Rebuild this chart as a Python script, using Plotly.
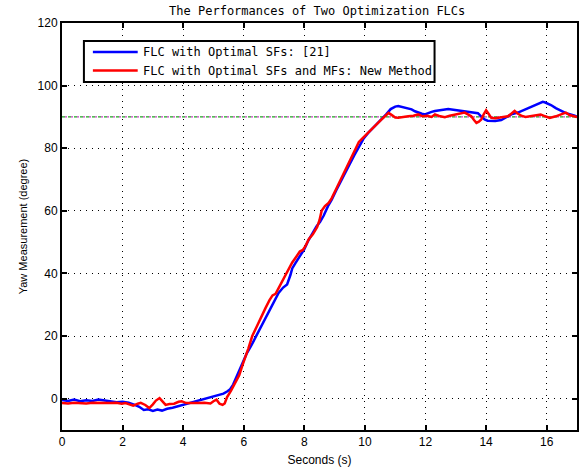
import plotly.graph_objects as go

# ---------------- data ----------------
blue_t = [0, 0.2, 0.4, 0.6, 0.8, 1.0, 1.2, 1.4, 1.6, 1.8, 2.0, 2.2, 2.4, 2.55, 2.7, 2.85,
          3.0, 3.15, 3.3, 3.47, 3.65, 3.8, 4.0, 4.13, 4.3, 4.45, 4.6, 4.78, 4.95, 5.1, 5.25,
          5.33, 5.45, 5.55, 5.65, 5.8, 5.95, 6.1, 6.25, 6.4, 6.55, 6.7, 6.85, 7.0, 7.15, 7.3,
          7.43, 7.54, 7.6, 7.7, 7.85, 8.0, 8.13, 8.26, 8.4, 8.52, 8.64, 8.78, 8.9, 9.05, 9.2,
          9.35, 9.5, 9.65, 9.8, 9.95, 10.1, 10.25, 10.4, 10.55, 10.7, 10.85, 11.0, 11.1, 11.25,
          11.4, 11.54, 11.65, 11.76, 11.88, 11.98, 12.1, 12.2, 12.31, 12.45, 12.6, 12.75, 12.86,
          13.0, 13.15, 13.29, 13.45, 13.6, 13.73, 13.85, 13.95, 14.05, 14.17, 14.3, 14.5, 14.65,
          14.83, 15.05, 15.25, 15.48, 15.65, 15.8, 15.87, 15.95, 16.05, 16.14, 16.3, 16.47,
          16.6, 16.7, 16.8, 16.9, 17.0]
blue_v = [-0.4, -0.7, -0.3, -0.8, -0.5, -0.7, -0.3, -0.6, -0.9, -1.1, -1.0, -1.3, -2.0, -2.6,
          -3.6, -3.4, -3.9, -3.5, -3.8, -3.2, -2.9, -2.5, -2.0, -1.6, -1.2, -0.8, -0.3, 0.3,
          0.7, 1.1, 1.4, 1.6, 2.3, 3.0, 4.5, 8.0, 11.5, 14.5, 17.0, 19.8, 22.5, 25.8, 28.5,
          31.2, 33.8, 35.5, 36.5, 39.5, 41.6, 43.2, 45.5, 47.8, 50.5, 52.9, 55.0, 56.5, 58.5,
          61.5, 63.5, 66.5, 69.5, 72.0, 75.0, 77.8, 80.5, 83.0, 84.8, 86.3, 87.5, 89.0, 90.8,
          92.5, 93.3, 93.5, 93.2, 92.8, 92.4, 91.8, 91.3, 91.0, 90.8, 91.3, 91.6, 91.9, 92.1,
          92.3, 92.5, 92.4, 92.2, 92.0, 92.0, 91.7, 91.5, 91.2, 90.0, 89.2, 88.8, 88.7, 88.7,
          89.0, 89.8, 90.8, 91.4, 92.2, 93.0, 93.8, 94.5, 94.8, 94.6, 94.3, 93.8, 92.8, 91.9,
          91.4, 91.0, 90.8, 90.5, 90.1]

red_t = [0, 0.2, 0.4, 0.6, 0.8, 1.0, 1.2, 1.4, 1.6, 1.8, 1.97, 2.1, 2.2, 2.35, 2.5, 2.6, 2.75,
         2.88, 3.0, 3.1, 3.22, 3.32, 3.42, 3.55, 3.7, 3.85, 3.95, 4.1, 4.3, 4.5, 4.7, 4.9, 5.0,
         5.1, 5.2, 5.3, 5.37, 5.45, 5.58, 5.68, 5.75, 5.85, 5.95, 6.05, 6.15, 6.28, 6.4, 6.5,
         6.6, 6.72, 6.85, 6.95, 7.05, 7.16, 7.28, 7.4, 7.5, 7.6, 7.71, 7.85, 7.95, 8.04, 8.15,
         8.28, 8.42, 8.5, 8.57, 8.68, 8.8, 8.9, 9.05, 9.2, 9.35, 9.5, 9.65, 9.8, 9.95, 10.1,
         10.25, 10.4, 10.55, 10.67, 10.78, 10.9, 11.0, 11.1, 11.25, 11.43, 11.6, 11.76, 11.9,
         12.05, 12.2, 12.31, 12.45, 12.64, 12.8, 12.96, 13.1, 13.29, 13.4, 13.51, 13.6, 13.68,
         13.76, 13.84, 13.92, 14.0, 14.08, 14.17, 14.3, 14.39, 14.55, 14.72, 14.85, 14.94,
         15.05, 15.16, 15.3, 15.45, 15.6, 15.8, 15.95, 16.1, 16.3, 16.47, 16.63, 16.75, 16.88,
         17.0]
red_v = [-1.4, -1.5, -1.3, -1.4, -1.5, -1.3, -1.4, -1.5, -1.4, -1.3, -1.6, -1.4, -1.7, -2.2,
         -1.6, -1.3, -2.0, -3.0, -1.8, -0.6, 0.2, -1.0, -2.0, -1.7, -1.6, -1.0, -0.8, -1.4,
         -1.5, -1.4, -1.3, -1.5, -0.8, -0.3, -1.6, -2.0, -1.5, 0.5, 2.6, 4.5, 5.8, 7.5, 10.5,
         13.0, 16.0, 20.0, 22.5, 24.5, 27.0, 29.0, 31.5, 33.0, 33.5, 35.5, 37.5, 40.0, 42.0,
         43.5, 45.0, 47.0, 47.5, 48.8, 51.0, 52.5, 54.8, 57.0, 60.0, 61.5, 62.5, 64.0, 67.0,
         70.0, 73.0, 76.5, 79.0, 82.0, 83.5, 85.0, 86.5, 88.0, 89.2, 90.3, 91.3, 90.5, 89.8,
         89.7, 90.0, 90.2, 90.4, 90.8, 90.2, 90.4, 90.0, 90.8, 90.3, 89.9, 90.4, 90.8, 91.0,
         91.4, 90.8, 90.2, 89.0, 88.1, 88.5, 89.2, 90.8, 92.1, 91.0, 89.7, 89.6, 89.7, 89.9,
         90.2, 91.2, 91.9, 91.0, 90.4, 90.0, 90.2, 90.3, 90.8, 90.2, 89.7, 90.2, 90.8, 91.4,
         90.6, 90.2, 90.0]

ref_t = [0, 17]
ref_v = [90, 90]

x_ticks = [0, 2, 4, 6, 8, 10, 12, 14, 16]
y_ticks = [0, 20, 40, 60, 80, 100, 120]

title_text = "The Performances of Two Optimization FLCs"
series_names = ["FLC with Optimal SFs: [21]", "FLC with Optimal SFs and MFs: New Method"]
series_colors = ["#0000ff", "#ff0000"]

MONO = "DejaVu Sans Mono"
SANS = "Liberation Sans, Arial, sans-serif"

W, H = 582, 474
ML, MR, MT, MB = 62, 3, 23, 44
PW, PH = W - ML - MR, H - MT - MB


def px_x(p):
    return (p - ML) / PW


def px_y(p):
    return (H - MB - p) / PH


fig = go.Figure()

# reference (set-point) line drawn as overlapping coloured dashes
fig.add_trace(go.Scatter(x=ref_t, y=ref_v, mode="lines", showlegend=False, hoverinfo="skip",
                         line=dict(color="#20a020", width=1.2, dash="3px,3px")))
fig.add_trace(go.Scatter(x=ref_t, y=ref_v, mode="lines", showlegend=False, hoverinfo="skip",
                         line=dict(color="#c040c0", width=1.2, dash="0px,3px,2px,1px")))

fig.add_trace(go.Scatter(x=blue_t, y=blue_v, mode="lines", name=series_names[0],
                         showlegend=False, line=dict(color=series_colors[0], width=2.5)))
fig.add_trace(go.Scatter(x=red_t, y=red_v, mode="lines", name=series_names[1],
                         showlegend=False, line=dict(color=series_colors[1], width=2.5)))

axis_common = dict(showline=True, linecolor="black", linewidth=2, mirror="ticks",
                   ticks="inside", ticklen=5, tickwidth=1.5, tickcolor="black",
                   showgrid=True, gridcolor="black", gridwidth=1, griddash="1px,5px",
                   zeroline=False, tickfont=dict(family=SANS, size=12, color="black"))

fig.update_xaxes(range=[0, 17], tickvals=x_ticks, ticktext=[str(v) for v in x_ticks],
                 title=dict(text="Seconds (s)", font=dict(family=SANS, size=12, color="black"),
                            standoff=7),
                 **axis_common)
fig.update_yaxes(range=[-10, 120], tickvals=y_ticks, ticktext=[str(v) for v in y_ticks],
                 title=dict(text="Yaw Measurement (degree)",
                            font=dict(family=SANS, size=11, color="black"), standoff=8),
                 **axis_common)

# custom legend box (MATLAB style)
shapes = [dict(type="rect", xref="paper", yref="paper",
               x0=px_x(84), x1=px_x(436), y0=px_y(82), y1=px_y(41),
               line=dict(color="black", width=2), fillcolor="white", layer="above")]
annotations = []
for i, (name, col) in enumerate(zip(series_names, series_colors)):
    yy = 52 + 18.5 * i
    shapes.append(dict(type="line", xref="paper", yref="paper",
                       x0=px_x(93), x1=px_x(138), y0=px_y(yy), y1=px_y(yy),
                       line=dict(color=col, width=2.5), layer="above"))
    annotations.append(dict(xref="paper", yref="paper", x=px_x(141), y=px_y(yy),
                            xanchor="left", yanchor="middle", showarrow=False, text=name,
                            font=dict(family=MONO, size=12, color="black")))

fig.update_layout(
    width=W, height=H,
    margin=dict(l=ML, r=MR, t=MT, b=MB),
    paper_bgcolor="white", plot_bgcolor="white",
    title=dict(text=title_text, x=0.545, xanchor="center", y=1 - 11 / H, yanchor="middle",
               font=dict(family=MONO, size=12, color="black")),
    shapes=shapes, annotations=annotations,
    showlegend=False,
)

fig.write_html("out.html")
